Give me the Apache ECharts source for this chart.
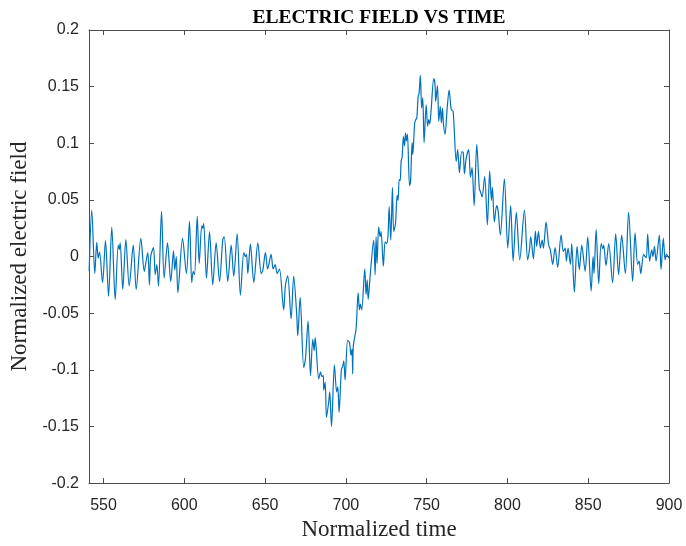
<!DOCTYPE html>
<html>
<head>
<meta charset="utf-8">
<title>Electric field vs time</title>
<script src="https://cdn.jsdelivr.net/npm/echarts@6/dist/echarts.min.js"></script>
<style>
    html, body { margin: 0; padding: 0; background: #fff; }
    #chart-container { width: 686px; height: 546px; }
</style>
</head>
<body>
<div id="chart-container"></div>
<script>
// normalized time (peaks / troughs)
var times = [
    541.1, 542.7, 544.6, 545.8, 546.7, 547.5, 549.4, 551.2, 553.1, 555.1,
    557.2, 559.1, 559.7, 560.3, 561.9, 563.8, 565.9, 568.4, 570.2, 573.1,
    575.2, 576.0, 577.4, 578.4, 579.2, 580.9, 582.0, 583.0, 584.0, 585.9,
    587.5, 589.6, 591.6, 593.3, 594.1, 595.0, 596.0, 598.9, 601.3, 603.2,
    604.6, 605.5, 606.3, 608.0, 609.2, 610.8, 611.4, 612.0, 613.7, 615.6,
    617.6, 619.7, 621.8, 623.8, 624.7, 626.9, 629.0, 630.6, 632.7, 634.7,
    636.8, 637.7, 638.5, 639.3, 640.9, 643.0, 645.5, 647.6, 648.6, 650.2,
    651.6, 653.7, 655.0, 656.2, 657.5, 658.9, 661.5, 662.6, 664.0, 666.1,
    667.7, 669.6, 670.2, 671.7, 673.9, 675.0, 676.6, 678.1, 679.5, 680.4,
    681.0, 683.2, 684.3, 685.1, 686.0, 686.3, 687.2, 688.0, 689.4, 690.0,
    691.1, 692.9, 694.3, 695.0, 695.8, 697.2, 698.0, 698.7, 699.5, 701.1,
    702.2, 703.2, 703.8, 704.2, 704.6, 706.3, 707.6, 708.4, 709.0, 709.8,
    711.7, 712.5, 713.2, 713.8, 715.0, 717.2, 718.1, 718.7, 719.3, 720.3,
    721.2, 721.8, 723.2, 724.3, 725.3, 726.1, 726.8, 727.8, 728.8, 729.6,
    730.7, 731.7, 732.3, 733.0, 733.6, 734.2, 734.8, 735.6, 736.3, 736.9,
    737.5, 738.1, 739.4, 740.0, 741.0, 741.4, 742.6, 743.3, 743.9, 744.7,
    745.3, 746.1, 746.9, 747.6, 748.4, 749.7, 750.6, 751.3, 751.9, 752.7,
    754.4, 755.2, 755.6, 756.7, 757.5, 758.4, 759.1, 759.8, 760.4, 761.4,
    762.7, 763.9, 765.2, 766.4, 768.3, 769.2, 770.3, 771.7, 772.6, 773.4,
    774.4, 776.0, 777.1, 778.1, 779.4, 781.0, 782.6, 783.4, 784.3, 785.9,
    787.6, 789.0, 790.1, 790.7, 791.9, 793.3, 794.2, 795.6, 798.1, 800.2,
    802.0, 803.5, 805.5, 807.6, 810.5, 812.5, 813.6, 814.4, 816.1, 817.3,
    818.1, 819.2, 820.4, 821.5, 822.3, 823.9, 825.5, 826.4, 827.0, 828.0,
    829.5, 831.1, 833.2, 834.6, 835.7, 836.5, 837.5, 839.0, 839.8, 841.4,
    843.1, 844.5, 846.0, 848.1, 849.7, 851.8, 853.0, 853.6, 854.9, 856.5,
    858.0, 859.0, 859.6, 861.0, 862.7, 865.1, 867.0, 868.8, 870.7, 873.0,
    875.0, 877.5, 879.0, 880.6, 881.5, 882.5, 884.3, 885.2, 886.0, 886.8,
    888.0, 889.3, 890.1, 891.0, 892.0, 894.0, 895.1, 896.5, 897.6, 898.4,
    900.0
];

// normalized electric field at those times
var field = [
    -0.013, 0.041, -0.015, 0.0125, -0.0015, 0.004, -0.023, 0.014, -0.035, 0.026,
    -0.038, 0.010, 0.006, 0.012, -0.029, 0.015, -0.026, 0.010, -0.029, 0.016,
    -0.013, -0.007, 0.0035, -0.025, 0.000, 0.008, -0.016, -0.007, -0.026, 0.040,
    -0.019, 0.012, -0.022, 0.005, -0.012, 0.000, -0.032, 0.016, -0.015, 0.031,
    -0.023, -0.013, -0.016, 0.0355, -0.006, 0.027, 0.025, 0.029, -0.019, 0.022,
    -0.025, 0.012, -0.022, 0.015, 0.0175, -0.022, 0.010, -0.0175, 0.020, -0.034,
    0.0035, 0.000, 0.002, -0.015, 0.011, -0.023, 0.012, -0.015, -0.012, 0.0035,
    -0.011, 0.002, -0.011, -0.007, -0.015, -0.011, -0.047, -0.025, -0.017, -0.055,
    -0.0175, -0.052, -0.070, -0.036, -0.098, -0.090, -0.057, -0.105, -0.073, -0.083,
    -0.0715, -0.108, -0.102, -0.106, -0.105, -0.118, -0.111, -0.142, -0.128, -0.1195,
    -0.150, -0.0955, -0.1195, -0.115, -0.1375, -0.100, -0.097, -0.092, -0.109, -0.074,
    -0.0758, -0.087, -0.0816, -0.1035, -0.079, -0.064, -0.032, -0.047, -0.042, -0.047,
    -0.011, -0.0335, -0.0205, -0.038, -0.0175, 0.0145, -0.016, 0.0175, -0.006, 0.026,
    0.0175, 0.022, -0.0085, 0.013, 0.0116, 0.019, 0.044, 0.0145, 0.061, 0.022,
    0.029, 0.054, 0.0495, 0.068, 0.067, 0.0845, 0.0874, 0.106, 0.0976, 0.109,
    0.102, 0.108, 0.0625, 0.0656, 0.1005, 0.090, 0.118, 0.121, 0.122, 0.141,
    0.144, 0.160, 0.131, 0.140, 0.1005, 0.134, 0.115, 0.121, 0.117, 0.128,
    0.157, 0.1515, 0.137, 0.151, 0.1195, 0.1325, 0.118, 0.131, 0.117, 0.108,
    0.131, 0.147, 0.130, 0.128, 0.084, 0.0945, 0.074, 0.0925, 0.092, 0.073,
    0.086, 0.0945, 0.070, 0.0785, 0.045, 0.099, 0.060, 0.0568, 0.0525, 0.0705,
    0.028, 0.0755, 0.0495, 0.061, 0.0305, 0.045, 0.0407, 0.019, 0.0685, 0.0075,
    0.045, -0.004, 0.039, -0.003, 0.041, -0.003, 0.0058, 0.0175, -0.002, 0.0225,
    0.009, 0.022, 0.0075, 0.0145, 0.0075, 0.0305, 0.010, 0.0067, 0.002, -0.007,
    0.008, -0.0095, 0.019, 0.0045, 0.0075, -0.004, 0.0075, -0.007, 0.0115, -0.0315,
    0.009, -0.0115, 0.010, -0.013, 0.0175, -0.0305, 0.000, -0.015, 0.024, -0.024,
    0.0115, 0.007, 0.010, -0.008, 0.0115, -0.023, 0.020, -0.016, 0.019, -0.015,
    0.039, -0.022, 0.021, -0.007, -0.004, -0.015, 0.002, 0.000, -0.001, 0.020,
    -0.004, 0.006, 0.000, 0.009, -0.004, 0.019, -0.0115, 0.016, -0.003, 0.002,
    -0.0015
];

var xTicks = [550, 600, 650, 700, 750, 800, 850, 900];
var yTicks = [-0.2, -0.15, -0.1, -0.05, 0, 0.05, 0.1, 0.15, 0.2];

var electricFieldChart = function () {
    var _drawChart = function (containerId) {
        if (typeof echarts == 'undefined') {
            console.warn('Warning - echarts.min.js is not loaded.');
            return;
        }

        var dom = document.getElementById(containerId);
        var chart = echarts.init(dom, null, { renderer: 'canvas' });

        var points = [];
        for (var i = 0; i < times.length; i++) {
            points.push([times[i], field[i]]);
        }

        var axisColor = '#4d4d4d';
        var tickFont = { color: '#262626', fontSize: 16, fontFamily: 'Liberation Sans' };

        var option = {
            backgroundColor: '#ffffff',
            animation: false,
            title: {
                text: 'ELECTRIC FIELD VS TIME',
                left: 374,
                top: 3,
                textAlign: 'center',
                textStyle: {
                    fontFamily: 'Liberation Serif',
                    fontWeight: 'bold',
                    fontSize: 19.5,
                    color: '#000'
                }
            },
            grid: {
                left: 89,
                right: 17,
                top: 30,
                bottom: 59,
                containLabel: false
            },
            xAxis: [
                {
                    type: 'value',
                    min: 541,
                    max: 900,
                    name: 'Normalized time',
                    nameLocation: 'middle',
                    nameGap: 33,
                    nameTextStyle: { fontFamily: 'Liberation Serif', fontSize: 23, color: '#262626' },
                    axisLine: { onZero: false, lineStyle: { color: axisColor, width: 1 } },
                    axisTick: { inside: true, length: 5, customValues: xTicks, lineStyle: { color: axisColor } },
                    axisLabel: Object.assign({ margin: 14, customValues: xTicks }, tickFont),
                    splitLine: { show: false }
                },
                {
                    type: 'value',
                    position: 'top',
                    min: 541,
                    max: 900,
                    axisLine: { onZero: false, lineStyle: { color: axisColor, width: 1 } },
                    axisTick: { inside: true, length: 5, customValues: xTicks, lineStyle: { color: axisColor } },
                    axisLabel: { show: false },
                    splitLine: { show: false }
                }
            ],
            yAxis: [
                {
                    type: 'value',
                    min: -0.2,
                    max: 0.2,
                    name: 'Normalized electric field',
                    nameLocation: 'middle',
                    nameGap: 50,
                    nameTextStyle: { fontFamily: 'Liberation Serif', fontSize: 23, color: '#262626' },
                    axisLine: { show: true, onZero: false, lineStyle: { color: axisColor, width: 1 } },
                    axisTick: { show: true, inside: true, length: 5, customValues: yTicks, lineStyle: { color: axisColor } },
                    axisLabel: Object.assign({
                        margin: 10,
                        customValues: yTicks,
                        formatter: function (v) { return String(+v.toFixed(2)); }
                    }, tickFont),
                    splitLine: { show: false }
                },
                {
                    type: 'value',
                    position: 'right',
                    min: -0.2,
                    max: 0.2,
                    axisLine: { show: true, onZero: false, lineStyle: { color: axisColor, width: 1 } },
                    axisTick: { show: true, inside: true, length: 5, customValues: yTicks, lineStyle: { color: axisColor } },
                    axisLabel: { show: false },
                    splitLine: { show: false }
                }
            ],
            series: [
                {
                    type: 'line',
                    xAxisIndex: 0,
                    yAxisIndex: 0,
                    data: points,
                    showSymbol: false,
                    smooth: 0.3,
                    lineStyle: { color: '#0072BD', width: 1.2 },
                    itemStyle: { color: '#0072BD' }
                }
            ]
        };

        if (option && typeof option === 'object') {
            chart.setOption(option, true);
        }
        window.addEventListener('resize', chart.resize);
    }

    return {
        init: function () {
            _drawChart('chart-container');
        }
    }
}();

document.addEventListener('DOMContentLoaded', function () {
    electricFieldChart.init();
});
</script>
</body>
</html>
